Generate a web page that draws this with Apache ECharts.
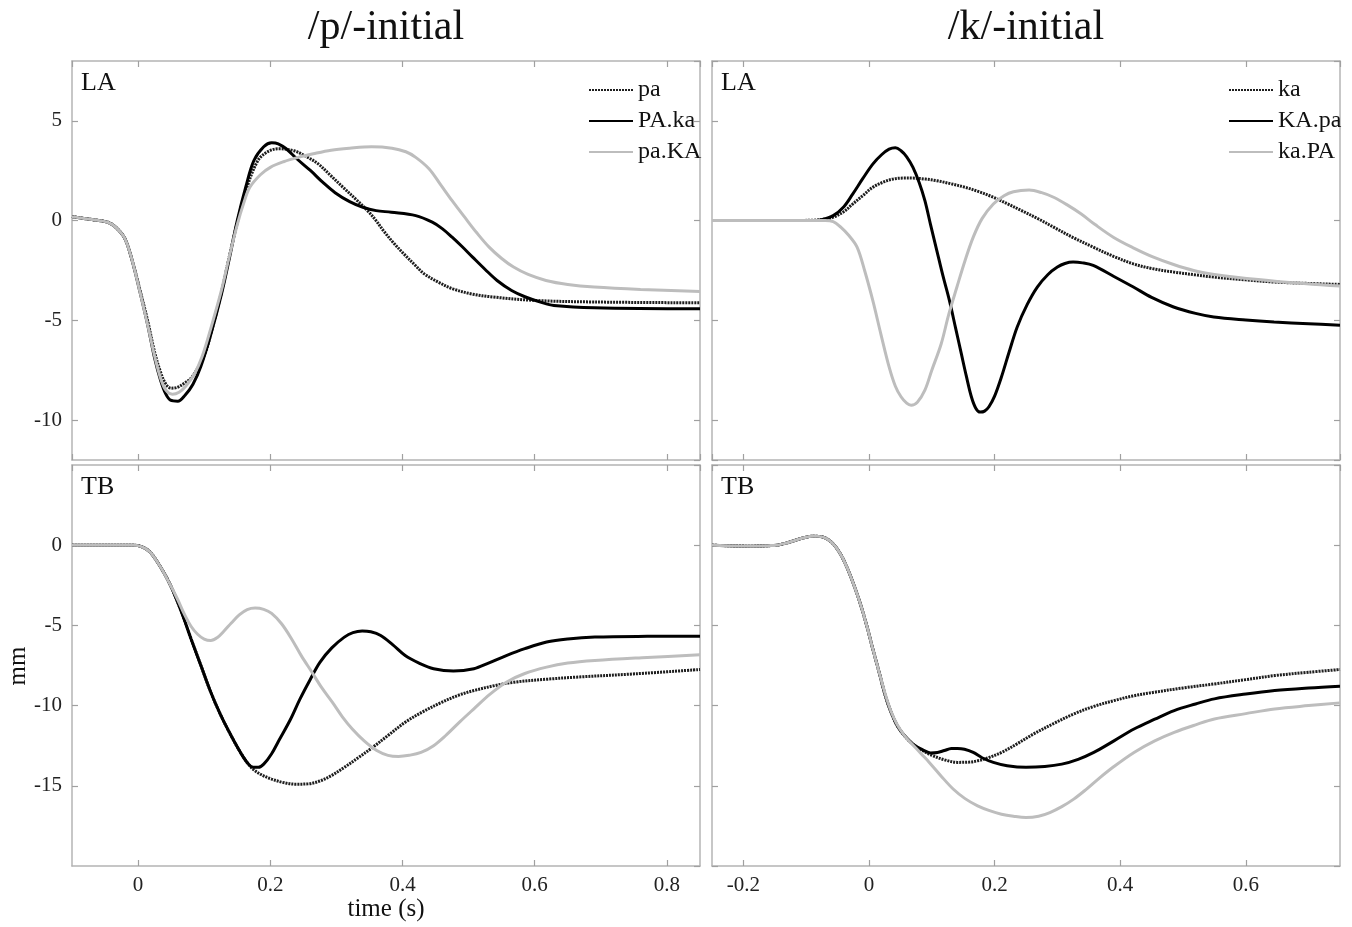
<!DOCTYPE html>
<html><head><meta charset="utf-8">
<script src="https://cdn.jsdelivr.net/npm/echarts@6/dist/echarts.min.js"></script>
<style>html,body{margin:0;padding:0;background:#fff}#c{width:1352px;height:927px}</style>
</head><body><div id="c"></div>
<script>
// ---------- texts ----------
const panelTitles = ['/p/-initial', '/k/-initial'];
const rowLabels = ['LA', 'TB'];
const namesP = ['pa', 'PA.ka', 'pa.KA'];
const namesK = ['ka', 'KA.pa', 'ka.PA'];
const xAxisTitle = 'time (s)';
const yAxisTitle = 'mm';

// ---------- axis ranges ----------
const xRangeP = [-0.1, 0.85];
const xRangeK = [-0.25, 0.75];
const yRangeLA = [-12, 8];
const yRangeTB = [-20, 5];

// ---------- data: [time (s), mm] ----------
// LA, /p/-initial
const laP_pa = [[-0.1,0.2],[-0.07,0.05],[-0.046,-0.08],[-0.034,-0.33],[-0.02,-0.9],[-0.009,-2.0],[0.003,-3.5],[0.015,-5.1],[0.025,-6.6],[0.034,-7.6],[0.042,-8.2],[0.05,-8.4],[0.06,-8.35],[0.07,-8.15],[0.08,-7.9],[0.09,-7.4],[0.101,-6.7],[0.113,-5.3],[0.126,-3.6],[0.138,-1.8],[0.15,-0.1],[0.163,1.5],[0.181,3.0],[0.196,3.45],[0.212,3.6],[0.236,3.5],[0.255,3.2],[0.273,2.83],[0.29,2.3],[0.31,1.67],[0.33,1.05],[0.347,0.5],[0.36,0.0],[0.371,-0.5],[0.386,-1.1],[0.402,-1.67],[0.418,-2.2],[0.433,-2.67],[0.455,-3.1],[0.476,-3.42],[0.505,-3.68],[0.537,-3.83],[0.6,-4.0],[0.69,-4.08],[0.85,-4.12]];
const laP_PAka = [[-0.1,0.2],[-0.07,0.05],[-0.046,-0.08],[-0.034,-0.33],[-0.02,-0.9],[-0.009,-2.0],[0.003,-3.6],[0.015,-5.3],[0.025,-6.9],[0.034,-8.0],[0.042,-8.7],[0.049,-9.0],[0.06,-9.05],[0.071,-8.75],[0.083,-8.2],[0.095,-7.3],[0.11,-5.7],[0.126,-3.7],[0.138,-1.9],[0.15,0],[0.163,1.7],[0.175,3.0],[0.19,3.7],[0.202,3.9],[0.212,3.85],[0.224,3.6],[0.24,3.1],[0.261,2.5],[0.28,1.9],[0.298,1.4],[0.32,0.95],[0.34,0.67],[0.36,0.5],[0.383,0.42],[0.42,0.25],[0.445,-0.08],[0.46,-0.4],[0.475,-0.83],[0.49,-1.3],[0.506,-1.83],[0.525,-2.45],[0.543,-3.0],[0.565,-3.5],[0.586,-3.83],[0.61,-4.1],[0.629,-4.25],[0.69,-4.37],[0.85,-4.42]];
const laP_paKA = [[-0.1,0.2],[-0.07,0.05],[-0.046,-0.08],[-0.034,-0.33],[-0.02,-0.9],[-0.009,-2.0],[0.003,-3.6],[0.015,-5.3],[0.025,-6.8],[0.034,-7.9],[0.042,-8.5],[0.052,-8.7],[0.062,-8.6],[0.072,-8.3],[0.085,-7.7],[0.097,-6.8],[0.11,-5.4],[0.126,-3.5],[0.138,-1.8],[0.15,-0.2],[0.16,0.9],[0.169,1.67],[0.185,2.3],[0.2,2.67],[0.22,2.95],[0.242,3.17],[0.265,3.35],[0.292,3.53],[0.32,3.63],[0.353,3.7],[0.384,3.63],[0.405,3.45],[0.42,3.17],[0.44,2.6],[0.457,1.83],[0.475,1.0],[0.494,0.17],[0.512,-0.6],[0.531,-1.33],[0.55,-1.9],[0.568,-2.33],[0.59,-2.7],[0.617,-3.0],[0.65,-3.2],[0.69,-3.33],[0.76,-3.45],[0.85,-3.55]];
// LA, /k/-initial
const laK_ka = [[-0.25,0],[-0.15,0],[-0.09,0.02],[-0.07,0.08],[-0.057,0.17],[-0.04,0.45],[-0.026,0.83],[-0.01,1.25],[0.006,1.67],[0.022,1.92],[0.038,2.08],[0.055,2.13],[0.07,2.13],[0.09,2.08],[0.108,2.0],[0.13,1.85],[0.153,1.67],[0.175,1.45],[0.198,1.17],[0.22,0.85],[0.243,0.5],[0.27,0.08],[0.294,-0.33],[0.325,-0.85],[0.357,-1.33],[0.39,-1.8],[0.421,-2.17],[0.45,-2.4],[0.485,-2.58],[0.52,-2.72],[0.549,-2.83],[0.6,-2.97],[0.645,-3.08],[0.7,-3.15],[0.75,-3.2]];
const laK_KApa = [[-0.25,0],[-0.15,0],[-0.09,0.0],[-0.075,0.05],[-0.057,0.25],[-0.04,0.7],[-0.026,1.33],[-0.01,2.1],[0.006,2.83],[0.02,3.3],[0.032,3.58],[0.042,3.65],[0.051,3.5],[0.06,3.2],[0.07,2.67],[0.08,1.9],[0.089,1.0],[0.098,-0.2],[0.108,-1.5],[0.118,-2.8],[0.128,-4.0],[0.138,-5.4],[0.147,-6.67],[0.155,-7.8],[0.163,-8.83],[0.17,-9.4],[0.177,-9.6],[0.184,-9.55],[0.191,-9.33],[0.2,-8.8],[0.211,-7.83],[0.223,-6.6],[0.236,-5.33],[0.252,-4.2],[0.268,-3.33],[0.285,-2.7],[0.3,-2.33],[0.312,-2.15],[0.325,-2.08],[0.34,-2.12],[0.357,-2.25],[0.39,-2.8],[0.421,-3.33],[0.45,-3.85],[0.485,-4.33],[0.52,-4.65],[0.549,-4.83],[0.6,-4.98],[0.645,-5.08],[0.7,-5.17],[0.75,-5.25]];
const laK_kaPA = [[-0.25,0],[-0.15,0],[-0.07,0],[-0.057,-0.05],[-0.045,-0.33],[-0.032,-0.75],[-0.019,-1.33],[-0.007,-2.5],[0.006,-4.0],[0.019,-5.7],[0.032,-7.33],[0.042,-8.3],[0.051,-8.83],[0.06,-9.15],[0.067,-9.25],[0.077,-9.1],[0.089,-8.5],[0.1,-7.5],[0.115,-6.17],[0.127,-4.7],[0.14,-3.33],[0.153,-2.0],[0.166,-0.83],[0.18,0.1],[0.198,0.83],[0.215,1.25],[0.23,1.45],[0.255,1.53],[0.275,1.4],[0.294,1.17],[0.315,0.8],[0.338,0.33],[0.36,-0.2],[0.389,-0.83],[0.42,-1.35],[0.453,-1.83],[0.485,-2.2],[0.517,-2.5],[0.55,-2.7],[0.581,-2.83],[0.65,-3.05],[0.75,-3.28]];
// TB, /p/-initial
const tbP_pa = [[-0.1,0],[-0.03,0],[-0.006,0],[0.006,-0.1],[0.018,-0.42],[0.033,-1.3],[0.049,-2.5],[0.065,-4.1],[0.08,-5.83],[0.095,-7.5],[0.11,-9.17],[0.125,-10.6],[0.141,-11.9],[0.156,-13.0],[0.171,-13.85],[0.186,-14.3],[0.202,-14.58],[0.22,-14.8],[0.239,-14.9],[0.257,-14.88],[0.275,-14.7],[0.293,-14.35],[0.312,-13.85],[0.333,-13.25],[0.355,-12.6],[0.38,-11.8],[0.404,-11.04],[0.43,-10.4],[0.459,-9.8],[0.485,-9.35],[0.508,-9.06],[0.54,-8.75],[0.569,-8.54],[0.62,-8.35],[0.661,-8.23],[0.752,-8.02],[0.85,-7.75]];
const tbP_PAka = [[-0.1,0],[-0.03,0],[-0.006,0],[0.006,-0.1],[0.018,-0.42],[0.033,-1.3],[0.049,-2.5],[0.065,-4.1],[0.08,-5.83],[0.095,-7.5],[0.11,-9.17],[0.125,-10.6],[0.141,-11.9],[0.156,-13.0],[0.166,-13.6],[0.174,-13.85],[0.182,-13.85],[0.19,-13.65],[0.202,-13.0],[0.214,-12.1],[0.23,-10.9],[0.245,-9.58],[0.26,-8.4],[0.275,-7.3],[0.293,-6.4],[0.312,-5.73],[0.325,-5.45],[0.339,-5.35],[0.352,-5.4],[0.367,-5.63],[0.385,-6.2],[0.404,-6.88],[0.425,-7.35],[0.447,-7.7],[0.477,-7.85],[0.508,-7.7],[0.53,-7.35],[0.557,-6.88],[0.585,-6.45],[0.618,-6.04],[0.65,-5.85],[0.691,-5.73],[0.77,-5.68],[0.85,-5.67]];
const tbP_paKA = [[-0.1,0],[-0.03,0],[-0.006,0],[0.006,-0.1],[0.018,-0.42],[0.033,-1.3],[0.049,-2.5],[0.06,-3.4],[0.07,-4.3],[0.08,-5.05],[0.09,-5.55],[0.1,-5.85],[0.11,-5.94],[0.12,-5.75],[0.13,-5.35],[0.141,-4.85],[0.153,-4.35],[0.165,-4.02],[0.177,-3.92],[0.19,-4.0],[0.202,-4.25],[0.217,-4.9],[0.232,-5.83],[0.247,-6.9],[0.263,-7.92],[0.278,-8.9],[0.294,-9.8],[0.309,-10.7],[0.324,-11.46],[0.342,-12.2],[0.361,-12.8],[0.378,-13.1],[0.394,-13.17],[0.41,-13.1],[0.428,-12.92],[0.447,-12.5],[0.465,-11.88],[0.487,-11.0],[0.508,-10.2],[0.532,-9.3],[0.557,-8.54],[0.585,-8.0],[0.618,-7.6],[0.65,-7.35],[0.691,-7.19],[0.77,-7.0],[0.85,-6.83]];
// TB, /k/-initial
const tbK_ka = [[-0.25,0],[-0.21,-0.05],[-0.186,-0.06],[-0.16,-0.03],[-0.147,0],[-0.135,0.1],[-0.122,0.25],[-0.105,0.45],[-0.09,0.56],[-0.08,0.55],[-0.07,0.46],[-0.06,0.2],[-0.051,-0.21],[-0.042,-0.8],[-0.032,-1.67],[-0.022,-2.7],[-0.013,-3.75],[-0.003,-5.1],[0.006,-6.46],[0.016,-7.9],[0.026,-9.38],[0.035,-10.4],[0.045,-11.25],[0.057,-11.9],[0.07,-12.4],[0.085,-12.8],[0.102,-13.13],[0.12,-13.38],[0.141,-13.54],[0.16,-13.52],[0.173,-13.44],[0.19,-13.25],[0.211,-12.92],[0.235,-12.4],[0.262,-11.77],[0.295,-11.1],[0.326,-10.52],[0.358,-10.05],[0.39,-9.69],[0.42,-9.4],[0.454,-9.17],[0.5,-8.9],[0.55,-8.65],[0.6,-8.38],[0.646,-8.13],[0.7,-7.92],[0.75,-7.75]];
const tbK_KApa = [[-0.25,0],[-0.21,-0.05],[-0.186,-0.06],[-0.16,-0.03],[-0.147,0],[-0.135,0.1],[-0.122,0.25],[-0.105,0.45],[-0.09,0.56],[-0.08,0.55],[-0.07,0.46],[-0.06,0.2],[-0.051,-0.21],[-0.042,-0.8],[-0.032,-1.67],[-0.022,-2.7],[-0.013,-3.75],[-0.003,-5.1],[0.006,-6.46],[0.016,-7.9],[0.026,-9.38],[0.035,-10.4],[0.045,-11.25],[0.057,-11.9],[0.07,-12.4],[0.085,-12.75],[0.098,-12.95],[0.109,-12.92],[0.12,-12.8],[0.131,-12.68],[0.141,-12.67],[0.152,-12.72],[0.166,-12.92],[0.18,-13.25],[0.198,-13.54],[0.22,-13.75],[0.25,-13.85],[0.28,-13.8],[0.307,-13.65],[0.333,-13.35],[0.358,-12.92],[0.39,-12.2],[0.422,-11.46],[0.455,-10.85],[0.486,-10.31],[0.52,-9.9],[0.55,-9.58],[0.6,-9.28],[0.646,-9.06],[0.7,-8.9],[0.75,-8.79]];
const tbK_kaPA = [[-0.25,0],[-0.21,-0.05],[-0.186,-0.06],[-0.16,-0.03],[-0.147,0],[-0.135,0.1],[-0.122,0.25],[-0.105,0.45],[-0.09,0.56],[-0.08,0.55],[-0.07,0.46],[-0.06,0.2],[-0.051,-0.21],[-0.042,-0.8],[-0.032,-1.67],[-0.022,-2.7],[-0.013,-3.75],[-0.003,-5.1],[0.006,-6.46],[0.016,-7.9],[0.026,-9.3],[0.035,-10.35],[0.045,-11.2],[0.057,-11.9],[0.07,-12.45],[0.083,-13.0],[0.096,-13.54],[0.115,-14.4],[0.134,-15.2],[0.153,-15.8],[0.173,-16.25],[0.192,-16.55],[0.211,-16.77],[0.23,-16.9],[0.25,-16.98],[0.27,-16.9],[0.288,-16.67],[0.307,-16.3],[0.326,-15.83],[0.345,-15.25],[0.365,-14.58],[0.39,-13.8],[0.422,-12.92],[0.455,-12.2],[0.486,-11.67],[0.52,-11.2],[0.55,-10.83],[0.6,-10.5],[0.646,-10.21],[0.7,-10.0],[0.75,-9.83]];

// ---------- layout & styles ----------
const FONT = "'Liberation Serif', 'DejaVu Serif', serif";
const grids = [
  {left: 72, top: 61, width: 628, height: 399},
  {left: 712, top: 61, width: 628, height: 399},
  {left: 72, top: 465, width: 628, height: 401},
  {left: 712, top: 465, width: 628, height: 401}
];
const lineStyles = [
  {color: '#1e1e1e', width: 3, type: [2, 1]},
  {color: '#000000', width: 3, type: 'solid'},
  {color: '#bdbdbd', width: 3, type: 'solid'}
];

const xAxes = [], yAxes = [], series = [];
const axisLineStyle = {color: '#b4b4b4', width: 1.5};
const tickStyle = {color: '#a0a0a0', width: 1.2};

function addAxes(gi, xr, yr, ySplit, showX, showY) {
  const xBase = {type: 'value', gridIndex: gi, min: xr[0], max: xr[1], splitNumber: 5,
    axisLine: {show: true, onZero: false, lineStyle: axisLineStyle},
    axisTick: {show: true, inside: true, length: 6, lineStyle: tickStyle},
    splitLine: {show: false}};
  xAxes.push(Object.assign({}, xBase, {position: 'bottom',
    axisLabel: {show: showX, showMinLabel: false, showMaxLabel: false, fontFamily: FONT, fontSize: 21, color: '#222', margin: 9}}));
  xAxes.push(Object.assign({}, xBase, {position: 'top', axisLabel: {show: false}}));
  const yBase = {type: 'value', gridIndex: gi, min: yr[0], max: yr[1], splitNumber: ySplit,
    axisLine: {show: true, onZero: false, lineStyle: axisLineStyle},
    axisTick: {show: true, inside: true, length: 6, lineStyle: tickStyle},
    splitLine: {show: false}};
  yAxes.push(Object.assign({}, yBase, {position: 'left',
    axisLabel: {show: showY, showMinLabel: false, showMaxLabel: false, fontFamily: FONT, fontSize: 21, color: '#222', margin: 10}}));
  yAxes.push(Object.assign({}, yBase, {position: 'right', axisLabel: {show: false}}));
}
addAxes(0, xRangeP, yRangeLA, 4, false, true);
addAxes(1, xRangeK, yRangeLA, 4, false, false);
addAxes(2, xRangeP, yRangeTB, 5, true, true);
addAxes(3, xRangeK, yRangeTB, 5, true, false);

function addSeries(gi, names, datas) {
  // draw order: grey, dotted, black
  [2, 0, 1].forEach(k => {
    series.push({type: 'line', name: names[k], xAxisIndex: gi * 2, yAxisIndex: gi * 2,
      data: datas[k], smooth: 0.35, symbol: 'none', showSymbol: false,
      lineStyle: lineStyles[k], itemStyle: {color: lineStyles[k].color},
      emphasis: {disabled: true}, animation: false, z: 2 + k});
  });
}
addSeries(0, namesP, [laP_pa, laP_PAka, laP_paKA]);
addSeries(1, namesK, [laK_ka, laK_KApa, laK_kaPA]);
addSeries(2, namesP, [tbP_pa, tbP_PAka, tbP_paKA]);
addSeries(3, namesK, [tbK_ka, tbK_KApa, tbK_kaPA]);

const legendBase = {orient: 'vertical', top: 73, itemWidth: 44, itemHeight: 14, itemGap: 7,
  selectedMode: false, itemStyle: {opacity: 0},
  textStyle: {fontFamily: FONT, fontSize: 24, color: '#111', padding: [0, 0, 0, 0]}};

const graphic = [];
panelTitles.forEach((t, i) => graphic.push({type: 'text', x: grids[i].left + grids[i].width / 2, y: 28,
  style: {text: t, font: "42px " + FONT, fill: '#111', textAlign: 'center', textVerticalAlign: 'middle'}}));
grids.forEach((g, i) => graphic.push({type: 'text', x: g.left + 9, y: g.top + 22,
  style: {text: rowLabels[Math.floor(i / 2)], font: "26px " + FONT, fill: '#111', textAlign: 'left', textVerticalAlign: 'middle'}}));
graphic.push({type: 'text', x: 386, y: 909, style: {text: xAxisTitle, font: "25px " + FONT, fill: '#111', textAlign: 'center', textVerticalAlign: 'middle'}});
graphic.push({type: 'text', x: 18, y: 666, rotation: Math.PI / 2, style: {text: yAxisTitle, font: "25px " + FONT, fill: '#111', textAlign: 'center', textVerticalAlign: 'middle'}});

const option = {
  backgroundColor: '#fff',
  animation: false,
  grid: grids.map(g => Object.assign({show: false, containLabel: false}, g)),
  xAxis: xAxes,
  yAxis: yAxes,
  legend: [
    Object.assign({}, legendBase, {left: 583, data: namesP}),
    Object.assign({}, legendBase, {left: 1223, data: namesK})
  ],
  graphic: graphic,
  series: series
};
const chart = echarts.init(document.getElementById('c'), null, {renderer: 'canvas'});
chart.setOption(option);
</script></body></html>
